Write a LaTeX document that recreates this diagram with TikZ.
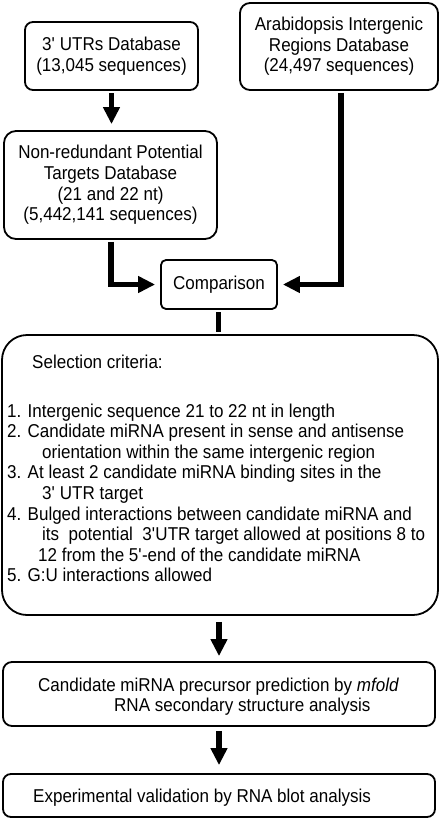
\documentclass[tikz,border=0pt]{standalone}
\usepackage{fontspec}
\setmainfont[FakeStretch=0.915]{Liberation Sans}
\usetikzlibrary{arrows.meta}
\newcommand{\fsz}{\fontsize{18.6}{20.6}\selectfont}
\newcommand{\ap}{\textquotesingle}
\begin{document}
\begin{tikzpicture}[x=1pt,y=-1pt,
  box/.style={draw, line width=1.8pt, rounded corners=#1, align=center, inner sep=0pt, font=\fsz},
  box/.default=8pt,
  txt/.style={anchor=base west, inner sep=0pt, font=\fsz},
  arr/.style={line width=5.5pt, -{Triangle[width=16pt 0 0,length=17pt 0 0]}},
  bar/.style={line width=5.5pt}]
\useasboundingbox[fill=white] (0,0) rectangle (442,820);
% boxes
\node[box=8pt, minimum width=173pt, minimum height=68pt] (b1) at (111.5,56) {3\ap{} UTRs Database\\(13,045 sequences)};
\node[box=10pt, minimum width=198pt, minimum height=87pt] (b2) at (339,46.5) {Arabidopsis Intergenic\\Regions Database\\(24,497 sequences)};
\node[box=12pt, minimum width=213pt, minimum height=108pt] (b3) at (110.5,185) {Non-redundant Potential\\Targets Database\\(21 and 22 nt)\\(5,442,141 sequences)};
\node[box=5pt, minimum width=116pt, minimum height=49pt] (cmp) at (219,284.5) {Comparison};
\node[box=25pt, minimum width=436pt, minimum height=280pt] (sel) at (220,475) {};
\node[box=9pt, minimum width=432pt, minimum height=64pt] (b5) at (219,694) {};
\node[box=8pt, minimum width=432pt, minimum height=43pt] (b6) at (219,795.5) {};
% selection text
\node[txt] (s0) at (32,368) {Selection criteria:};
\node[txt] (s1) at (7,417) {1. Intergenic sequence 21 to 22 nt in length};
\node[txt] (s2) at (7,437.6) {2. Candidate miRNA present in sense and antisense};
\node[txt] (s3) at (42,458.2) {orientation within the same intergenic region};
\node[txt] (s4) at (7,478.8) {3. At least 2 candidate miRNA binding sites in the};
\node[txt] (s5) at (42,499.4) {3\ap{} UTR target};
\node[txt] (s6) at (7,520) {4. Bulged interactions between candidate miRNA and};
\node[txt] (s7) at (42,540.6) {its\ \ potential\ \ 3\ap{}UTR target allowed at positions 8 to};
\node[txt] (s8) at (38,561.2) {12 from the 5\ap{}-end of the candidate miRNA};
\node[txt] (s9) at (7,581.8) {5. G:U interactions allowed};
% box 5 and 6 text
\node[txt] (p1) at (38,691) {Candidate miRNA precursor prediction by \textit{mfold}};
\node[txt] (p2) at (114,711) {RNA secondary structure analysis};
\node[txt] (e1) at (33,802) {Experimental validation by RNA blot analysis};
% connectors
\draw[arr, shorten <=2.5pt, shorten >=6pt] (b1.south) -- (b1.south |- b3.north);
\draw[arr, shorten <=2pt, shorten >=5pt] ([xshift=0.5pt]b3.south) |- (cmp.west);
\draw[arr, shorten <=2pt, shorten >=5pt] ([xshift=2pt]b2.south) |- (cmp.east);
\draw[bar, shorten <=2.5pt, shorten >=2.5pt] ([xshift=-0.5pt]cmp.south) -- ([xshift=-0.5pt]cmp.south |- sel.north);
\draw[arr, shorten <=6pt, shorten >=5pt] (b5.north |- sel.south) -- (b5.north);
\draw[arr, shorten <=4pt, shorten >=8pt] (b5.south) -- (b6.north);
\end{tikzpicture}
\end{document}
